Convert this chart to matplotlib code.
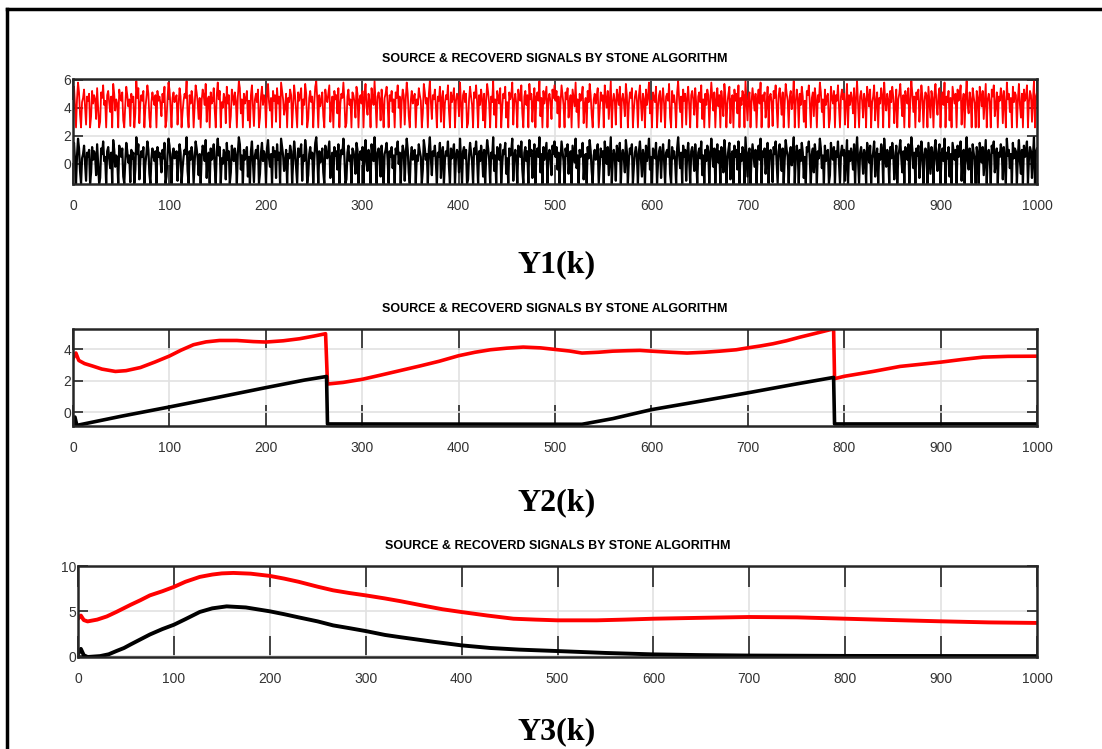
#!/usr/bin/env python
# -*- coding: utf-8 -*-

"""
Source and recovered signals (stone algorithm), three stacked panels.
"""

import numpy as np
import matplotlib
matplotlib.use("Agg")
import matplotlib.pyplot as plt
from matplotlib.lines import Line2D

TITLE = "SOURCE & RECOVERD SIGNALS BY STONE ALGORITHM"
PANEL_LABELS = ["Y1(k)", "Y2(k)", "Y3(k)"]
X_TICKS = [0, 100, 200, 300, 400, 500, 600, 700, 800, 900, 1000]

# panel 1: source noise (black); recovered (red) is drawn with an offset of 4
y1_source = [
    0.9, 1.5, 0.2, -1.4, 0.6, 1.8, 1.1, -0.5, -1.4, 0.4, 0.7, 1.3, 0.1, -1.2, 0.8, 0.5, 1.0, -1.4, -0.6, 1.2,
    0.3, 0.9, 0.6, -0.8, 1.4, 0.0, -1.4, -1.0, 1.1, 0.7, 1.6, 0.2, 0.5, -1.4, 0.9, 1.2, 0.4, -0.3, 0.8, -1.4,
    1.7, 1.0, -0.2, 0.6, 0.3, -1.4, 1.3, 0.8, 0.5, 1.1, -0.9, -1.4, 0.2, 1.5, 0.9, 0.1, 0.6, -1.3, 1.0, 0.4,
    0.8, -1.4, -0.4, 1.9, 0.7, 1.4, -1.1, 0.3, 0.9, 0.5, 1.2, -1.4, 0.0, 0.7, 1.6, 1.0, -0.7, -1.4, 0.4, 1.1,
    0.6, 0.2, 0.9, -1.4, 1.2, 0.5, 0.8, 0.3, -0.6, 1.0, 0.4, 1.5, -1.4, -0.9, 0.6, 1.8, 1.3, 0.1, -1.4, 0.7,
    1.1, 0.4, 0.6, 0.9, -1.2, 0.2, 1.4, 0.8, -1.4, -0.3, 0.5, 1.0, 0.7, 1.9, -0.5, -1.4, 0.9, 0.3, 1.2, 0.6,
    -1.4, 0.1, 1.6, 1.1, 0.4, -0.8, 0.7, -1.4, 0.5, 1.3, 0.9, 0.2, 1.7, -1.0, 0.6, 0.8, -1.4, 1.1, 0.3, 0.5,
    1.4, -0.2, -1.4, 0.9, 1.8, 0.6, 1.2, -1.4, 0.4, 0.0, 1.0, 0.7, -1.1, 1.5, 0.3, 0.9, -1.4, -0.6, 1.3, 0.8,
    0.2, 1.1, 0.5, -1.4, 0.8, 1.9, 1.4, -0.4, 0.6, -1.4, 1.0, 0.3, 0.7, 1.2, -0.9, 0.5, -1.4, 0.9, 1.6, 0.1,
    -1.3, 0.6, 1.0, 0.4, 1.3, -1.4, -0.7, 0.8, 1.5, 0.2, 0.9, 0.6, -1.4, 1.1, 1.7, 0.4, -0.2, 0.7, -1.4, 1.2,
    0.5, 0.9, -1.0, 1.4, 0.3, 0.8, -1.4, 1.8, 1.2, 0.6, -0.5, 0.1, 1.0, -1.4, 0.7, 0.4, 1.3, 0.9, -1.4, 0.2,
    1.6, 0.8, -0.3, -1.4, 1.1, 0.5, 0.9, 1.4, -1.2, 0.6, 0.2, 1.7, 1.0, -1.4, -0.8, 0.7, 1.2, 0.4, 0.8, -1.4,
    0.3, 1.5, 1.9, 0.6, -1.4, 0.9, 0.1, 0.5, 1.1, -0.6, -1.4, 1.3, 0.7, 0.4, 1.0, 1.6, -1.0, 0.2, 0.8, -1.4,
    1.2, 0.6, 0.9, -0.4, 1.4, -1.4, 0.3, 1.0, 0.7, 1.8, 0.5, -1.4, -1.1, 0.8, 1.3, 0.2, 0.6, -1.4, 1.1, 0.9,
    0.4, -0.7, 1.5, 1.0, -1.4, 0.6, 0.9, 0.3, 1.2, -1.4, 0.8, 1.7, 0.1, -0.5, 1.0, 0.5, -1.4, 1.4, 0.7, 0.2,
    1.9, 0.4, -1.4, 0.8, 1.1, 0.6, -0.9, 1.3, 0.2, -1.4, 0.7, 1.0, 1.5, 0.3, -1.4, 0.9, 0.5, 1.2, -0.3, 0.6,
    -1.4, 1.1, 0.7, 1.6, 0.0, 0.8, -1.4, 0.4, 1.3, 0.9, -1.2, 0.6, 1.8, 1.0, -0.6, -1.4, 0.5, 1.2, 0.3, 0.8,
    1.0, -1.4, 0.6, 0.2, 1.4, 0.9, 0.5, -1.4, -0.4, 1.7, 1.1, 0.3, 0.7, -1.4, 1.0, 1.9, 0.4, -0.8, 0.9, 0.6,
    1.3, 0.1, -1.4, 0.8, 0.5, 1.5, -1.0, 0.7, 1.2, -1.4, 0.3, 0.9, 0.6, 1.6, -0.2, -1.4, 1.1, 0.4, 0.8, 1.4,
    -1.4, 0.5, 1.0, 0.7, -0.6, 1.8, 0.3, -1.4, 0.9, 1.2, 0.4, 1.0, -1.4, -1.1, 0.6, 1.5, 0.8, 0.2, -1.4, 1.1,
    0.7, 1.6, 0.4, -1.4, 0.9, 0.2, 1.3, 0.6, -0.9, 1.0, -1.4, 0.5, 1.7, 1.1, 0.3, -1.4, 0.8, 0.4, 1.9, -0.5,
    0.6, -1.4, 1.2, 0.8, 0.3, 1.4, -1.4, 0.0, 1.0, 0.7, 1.5, -0.7, 0.4, -1.4, 1.1, 0.6, 0.9, 1.8, -1.2, 0.5,
    1.0, 0.3, -1.4, 1.3, 0.7, 0.5, 1.6, -0.4, -1.4, 0.8, 1.2, 0.2, 0.9, -1.4, 1.7, 0.6, 1.0, -1.0, 0.4, 1.4,
    -1.4, 0.8, 1.1, 0.5, 1.9, -0.6, 0.7, -1.4, 1.2, 0.3, 0.9, 1.5, -1.4, 0.6, 1.0, 0.4, -0.8, 1.3, 0.7, 1.6,
    0.5, 1.2, -0.4, 0.8, -1.4, 0.3, 1.6, 0.9, 0.2, -1.4, 1.1, 0.6, 1.4, -0.7, 0.4, 0.9, -1.4, 1.3, 0.7, 0.1,
    1.8, -0.3, 0.6, -1.4, 1.0, 0.5, 0.8, 1.5, -1.1, 0.2, 0.7, -1.4, 1.2, 0.4, 1.7, 0.9, -0.5, -1.4, 0.6, 1.0,
    0.3, 0.8, 1.4, -1.4, -0.2, 1.1, 0.5, 0.9, -1.4, 1.6, 0.7, 0.0, 1.2, -0.8, 0.6, 1.9, -1.4, 0.4, 1.0, 0.5,
    -1.2, 1.3, 0.8, 0.2, 1.5, -1.4, 0.6, 1.0, 0.4, -0.6, 1.7, 0.9, -1.4, 0.3, 1.1, 0.7, 1.4, -1.4, -0.1, 0.8,
    1.2, 0.5, -1.4, 0.9, 1.6, 0.3, -0.9, 1.0, 0.6, -1.4, 1.3, 0.2, 0.8, 1.8, -0.4, 0.5, -1.4, 1.1, 0.7, 0.4,
    1.5, -1.4, 0.1, 0.9, 1.2, -1.0, 0.6, 1.4, 0.3, -1.4, 0.8, 1.0, 0.5, 1.7, -0.7, -1.4, 1.2, 0.4, 0.9, 0.2,
    -1.4, 1.1, 1.9, 0.6, -0.3, 0.8, -1.4, 1.3, 0.5, 1.0, -1.2, 0.7, 1.5, 0.2, -1.4, 0.9, 1.2, 0.6, -0.5, 1.4,
    0.3, -1.4, 0.8, 1.1, 0.4, 1.6, -0.8, 0.6, -1.4, 1.0, 0.2, 1.3, 0.9, -1.4, 0.5, 1.8, 0.7, -0.2, 1.1, -1.4,
    0.6, 1.4, 0.1, 0.9, -1.4, 1.2, 0.4, -0.6, 1.7, 0.8, -1.4, 0.3, 1.0, 1.5, -1.1, 0.6, 0.9, -1.4, 1.3, 0.5,
    1.0, -0.4, 1.6, -1.4, 0.7, 0.2, 1.2, 0.9, -1.4, 1.9, 0.5, -0.9, 0.8, 1.1, -1.4, 0.4, 1.4, 0.6, -0.2, 1.0,
    -1.4, 0.6, 1.3, 0.3, 1.8, -1.4, 0.9, 0.5, 1.1, -0.7, 0.2, 1.5, -1.4, 0.8, 1.0, 0.4, -1.3, 1.2, 0.7, 1.6,
    0.1, -1.4, 0.9, 1.4, 0.6, -0.5, 1.1, -1.4, 0.3, 1.7, 1.0, 0.5, -1.4, 0.8, 1.2, -0.1, 0.6, 1.9, -1.4, 0.4,
    1.3, 0.7, -1.4, 1.0, 0.2, 1.5, 0.8, -1.0, 0.5, -1.4, 1.2, 0.9, 1.6, 0.3, -1.4, 0.7, 1.1, -0.6, 1.4, 0.6,
    -1.4, 0.9, 0.4, 1.8, 1.1, -0.3, 0.6, -1.4, 1.3, 0.2, 0.8, 1.0, -1.4, -0.8, 1.5, 0.7, 0.3, 1.2, -1.4, 0.9,
    0.5, 1.6, 0.1, -1.4, 0.8, 1.3, 0.6, 1.0, -1.2, 0.4, 1.7, -1.4, 0.9, 0.2, 1.1, 0.6, -0.4, 1.4, -1.4, 0.7,
    1.9, 0.3, -1.4, 0.8, 1.2, 0.5, -0.7, 1.0, 0.6, -1.4, 1.5, 0.9, 0.1, 1.3, -1.4, 0.4, 0.8, 1.6, -0.9, 0.5,
    1.1, -1.4, 0.7, 0.3, 1.4, 0.9, -1.4, 1.8, 0.5, -0.2, 1.0, 0.6, -1.4, 1.2, 0.4, 1.5, 0.8, -1.1, 0.2, 1.3,
    -1.4, 0.6, 1.0, 1.7, 0.4, -0.6, 0.9, -1.4, 1.2, 0.7, 0.3, 1.4, -1.4, 0.5, 1.9, 1.0, -0.3, 0.8, -1.4, 1.1,
    0.6, 1.3, -1.0, 0.2, 1.6, 0.8, -1.4, 0.5, 1.1, 0.9, -1.4, 1.5, 0.4, -0.7, 1.2, 0.7, -1.4, 1.0, 1.7, 0.3,
    -0.5, 0.9, 1.4, -1.4, 0.6, 1.1, 0.2, 1.8, -1.4, 0.8, 0.4, 1.2, -0.9, 0.7, -1.4, 1.5, 0.9, 0.3, 1.0, -1.4,
    1.3, 0.5, 0.8, 1.6, -1.2, 0.4, 1.0, -1.4, 0.7, 1.9, 0.2, -0.4, 1.1, 0.6, -1.4, 1.4, 0.8, 0.3, -1.4, 1.2,
    0.7, -1.4, 1.5, 0.9, 0.1, 1.2, -0.8, 0.5, 1.7, -1.4, 0.6, 1.0, 0.4, -1.4, 1.3, 0.8, 1.6, -0.6, 0.2, 1.1,
    -1.4, 0.8, 0.5, 1.4, 0.9, -1.1, 1.2, 0.3, -1.4, 1.8, 0.6, 1.0, -0.3, 0.7, -1.4, 1.5, 0.4, 1.1, 0.9, -1.4,
    0.6, 1.7, 0.2, -0.7, 1.0, -1.4, 1.3, 0.5, 0.8, 1.6, -1.4, 0.4, 1.2, 0.9, -1.0, 0.6, 1.9, -1.4, 0.8, 1.1,
]
y1_offset = 4.0

# panel 2: sawtooth source and recovered signal
y2_src_k = [0, 2, 4, 50, 100, 150, 200, 240, 263, 264, 400, 528, 560, 600, 650, 700, 750, 789, 790, 1000]
y2_src = [-0.8, -0.3, -0.83, -0.25, 0.34, 0.95, 1.57, 2.05, 2.28, -0.74, -0.75, -0.76,
          -0.4, 0.17, 0.7, 1.24, 1.8, 2.22, -0.74, -0.74]
y2_rec_k = [0, 3, 6, 12, 20, 30, 44, 55, 70, 85, 100, 112, 125, 138, 152, 170, 187, 200, 218,
            235, 250, 262, 264, 280, 300, 318, 339, 360, 380, 400, 417, 433, 450, 467, 485,
            500, 515, 528, 545, 560, 575, 588, 600, 620, 637, 655, 671, 688, 700, 713, 726,
            740, 754, 770, 789, 790, 800, 830, 858, 880, 900, 922, 944, 970, 1000]
y2_rec = [3.41, 3.77, 3.3, 3.1, 2.95, 2.75, 2.6, 2.65, 2.85, 3.2, 3.58, 3.95, 4.3, 4.48, 4.57,
          4.57, 4.5, 4.47, 4.55, 4.68, 4.85, 5.0, 1.8, 1.9, 2.1, 2.35, 2.65, 2.95, 3.25, 3.6,
          3.82, 3.98, 4.08, 4.15, 4.1, 4.0, 3.9, 3.77, 3.82, 3.89, 3.92, 3.94, 3.89, 3.82, 3.77,
          3.82, 3.89, 3.98, 4.1, 4.22, 4.36, 4.55, 4.78, 5.02, 5.31, 2.14, 2.29, 2.6, 2.92, 3.06,
          3.19, 3.36, 3.51, 3.56, 3.57]

# panel 3: bell-shaped source and recovered signal
y3_src_k = [0, 3, 6, 10, 23, 32, 40, 48, 55, 65, 75, 88, 100, 112, 127, 140, 155, 175, 200,
            215, 230, 250, 266, 283, 300, 320, 336, 370, 400, 430, 460, 500, 550, 600, 650,
            700, 800, 1000]
y3_src = [0.2, 0.8, 0.1, -0.1, 0.0, 0.2, 0.56, 0.9, 1.3, 1.85, 2.4, 3.0, 3.48, 4.1, 4.9, 5.3,
          5.52, 5.4, 4.97, 4.65, 4.3, 3.85, 3.41, 3.1, 2.78, 2.35, 2.1, 1.6, 1.19, 0.9, 0.72,
          0.56, 0.35, 0.19, 0.11, 0.06, 0.02, 0.0]
y3_rec_k = [0, 3, 6, 10, 20, 30, 40, 55, 65, 75, 88, 100, 112, 127, 140, 150, 162, 180, 200,
            215, 230, 250, 266, 283, 300, 320, 336, 360, 380, 400, 427, 454, 477, 500, 541,
            570, 600, 650, 700, 750, 800, 850, 900, 950, 1000]
y3_rec = [4.15, 4.5, 4.0, 3.85, 4.05, 4.4, 4.9, 5.7, 6.2, 6.74, 7.2, 7.68, 8.25, 8.79, 9.05,
          9.18, 9.23, 9.15, 8.9, 8.6, 8.25, 7.7, 7.3, 7.0, 6.74, 6.4, 6.1, 5.6, 5.2, 4.89, 4.5,
          4.15, 4.05, 3.97, 3.97, 4.05, 4.15, 4.25, 4.34, 4.3, 4.15, 4.0, 3.86, 3.74, 3.68]

NARROW = ["Liberation Sans Narrow", "Liberation Sans", "DejaVu Sans"]
W, H = 1102, 749


def style_axes(ax, ylim, yticks):
    ax.set_xlim(0, 1000)
    ax.set_ylim(*ylim)
    ax.set_xticks(X_TICKS)
    ax.set_yticks(yticks)
    ax.grid(True, color="#e2e2e2", lw=1.2)
    ax.set_axisbelow(True)
    for sp in ax.spines.values():
        sp.set_color("#262626")
        sp.set_linewidth(1.8)
    ax.tick_params(axis="x", direction="in", length=15, width=1.2, color="#262626",
                   top=True, bottom=True, pad=10.5, labelsize=10, labelcolor="#333333")
    ax.tick_params(axis="y", direction="in", length=7, width=1.2, color="#262626",
                   left=True, right=True, pad=1.5, labelsize=10, labelcolor="#333333")
    ax.set_title(TITLE, fontsize=9, fontweight="bold", pad=12, family=NARROW)


def main():
    plt.rcParams["font.family"] = NARROW
    fig = plt.figure(figsize=(W / 100, H / 100), dpi=100)

    # axes boxes in pixels: left, top, right, bottom
    boxes = [(73, 79, 1037, 184), (73, 329, 1037, 426), (78, 566, 1037, 657)]
    axes = [fig.add_axes([l / W, 1 - b / H, (r - l) / W, (b - t) / H]) for l, t, r, b in boxes]

    # panel 1
    src = np.array(y1_source)
    k1 = np.linspace(0, 1000, len(src))
    axes[0].plot(k1, src + y1_offset, color="red", lw=1.3)
    axes[0].plot(k1, src, color="black", lw=1.6)
    style_axes(axes[0], (-1.43, 6.05), [0, 2, 4, 6])

    # panel 2
    axes[1].plot(y2_rec_k, y2_rec, color="red", lw=2.6)
    axes[1].plot(y2_src_k, y2_src, color="black", lw=2.6)
    style_axes(axes[1], (-0.87, 5.3), [0, 2, 4])

    # panel 3
    axes[2].plot(y3_rec_k, y3_rec, color="red", lw=2.8)
    axes[2].plot(y3_src_k, y3_src, color="black", lw=2.8)
    style_axes(axes[2], (-0.1, 10), [0, 5, 10])

    # panel captions
    for label, yc in zip(PANEL_LABELS, [265, 503, 732]):
        fig.text(557 / W, 1 - yc / H, label, ha="center", va="center", fontsize=23,
                 fontweight="bold", family="Liberation Serif")

    # frame around the figure (left and top edges visible)
    xl, yt = 6.5 / W, 1 - 8.8 / H
    fig.add_artist(Line2D([xl, xl], [0, yt], color="black", lw=2.5, transform=fig.transFigure))
    fig.add_artist(Line2D([xl, 1], [yt, yt], color="black", lw=2.5, transform=fig.transFigure))

    fig.savefig("out.png", dpi=100)


if __name__ == "__main__":
    main()
